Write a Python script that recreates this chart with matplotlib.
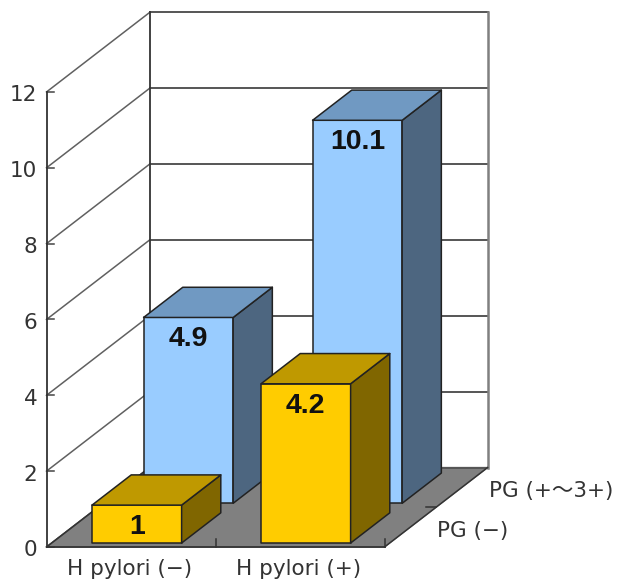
import matplotlib
matplotlib.use('Agg')
import matplotlib.pyplot as plt
from matplotlib.patches import Polygon

plt.rcParams['font.family'] = ['DejaVu Sans', 'Noto Sans CJK JP']

# data
categories = ['H pylori (−)', 'H pylori (+)']
series_names = ['PG (−)', 'PG (+〜3+)']
values_pg_neg = [1, 4.2]
values_pg_pos = [4.9, 10.1]
y_ticks = [0, 2, 4, 6, 8, 10, 12]

# oblique projection: one row of depth shifts this much in data units
depth_dx = 0.305
depth_dy = 1.048
bar_width = 0.53
row_gap = 0.1
bar_depth = 0.76


def proj(x, y, d):
    return (x + d * depth_dx, y + d * depth_dy)


fig = plt.figure(figsize=(6.23, 5.79), dpi=100)
ax = fig.add_axes([0, 0, 1, 1])
# x in category units, y in chart value units
ax.set_xlim(-46.5 / 169, (623 - 46.5) / 169)
ax.set_ylim(-32 / 37.92, 547 / 37.92)
ax.axis('off')

n_cat = len(categories)
n_row = len(series_names)
y_max = y_ticks[-1]

# floor
floor = [proj(0, 0, 0), proj(n_cat, 0, 0), proj(n_cat, 0, n_row), proj(0, 0, n_row)]
ax.add_patch(Polygon(floor, closed=True, facecolor='#808080', edgecolor='#808080', lw=1, zorder=1))

# back wall and left wall grid
for v in y_ticks:
    p0 = proj(0, v, 0)
    p1 = proj(0, v, n_row)
    p2 = proj(n_cat, v, n_row)
    ax.plot([p0[0], p1[0]], [p0[1], p1[1]], color='#606060', lw=1.1, zorder=2)
    ax.plot([p1[0], p2[0]], [p1[1], p2[1]], color='#555555', lw=1.4, zorder=2)
    # tick on the value axis
    ax.plot([p0[0], p0[0] + 0.045], [v, v], color='#444444', lw=1.1, zorder=2)
    ax.text(p0[0] - 0.055, v - 0.09, str(v), ha='right', va='center', fontsize=15.5, color='#333333')

left0 = proj(0, 0, 0)
left1 = proj(0, 0, n_row)
ax.plot([left0[0], left0[0]], [0, y_max], color='#333333', lw=1.3, zorder=3)
ax.plot([left1[0], left1[0]], [left1[1], left1[1] + y_max], color='#333333', lw=1.3, zorder=2)
right1 = proj(n_cat, 0, n_row)
ax.plot([right1[0], right1[0]], [right1[1], right1[1] + y_max], color='#808080', lw=1.8, zorder=2)

# floor edges and ticks
ax.plot([0, n_cat], [0, 0], color='#333333', lw=1.3, zorder=3)
fr = proj(n_cat, 0, 0)
ax.plot([fr[0], right1[0]], [fr[1], right1[1]], color='#333333', lw=1.1, zorder=3)
ax.plot([left0[0], left1[0]], [left0[1], left1[1]], color='#333333', lw=1.1, zorder=3)
for i in range(1, n_cat + 1):
    ax.plot([i, i], [0, 0.2], color='#333333', lw=1.1, zorder=3)
mid = proj(n_cat, 0, 1)
ax.plot([mid[0] - 0.06, mid[0]], [mid[1], mid[1]], color='#333333', lw=1.1, zorder=3)


def draw_bar(cat, row, value, front, top, side, order):
    x0 = cat + (1 - bar_width) / 2 + 0.004
    x1 = x0 + bar_width
    d0 = row + row_gap
    d1 = d0 + bar_depth
    base = proj(0, 0, d0)[1]
    faces = [
        ([proj(x0, 0, d0), proj(x1, 0, d0), proj(x1, value, d0), proj(x0, value, d0)], front),
        ([proj(x1, 0, d0), proj(x1, 0, d1), proj(x1, value, d1), proj(x1, value, d0)], side),
        ([proj(x0, value, d0), proj(x1, value, d0), proj(x1, value, d1), proj(x0, value, d1)], top),
    ]
    for pts, col in faces:
        ax.add_patch(Polygon(pts, closed=True, facecolor=col, edgecolor='#222222',
                             lw=1.1, joinstyle='round', zorder=order))
    cx = (x0 + x1) / 2 + d0 * depth_dx
    ax.text(cx, base + value - 0.58, str(value), ha='center', va='center', fontsize=20.5,
            fontweight='bold', family='Liberation Sans', color='#111111', zorder=order + 0.5)


# back row first so the front row covers it
for i, v in enumerate(values_pg_pos):
    draw_bar(i, 1, v, '#99CCFF', '#7099C2', '#4D6680', 5)
for i, v in enumerate(values_pg_neg):
    draw_bar(i, 0, v, '#FFCC00', '#BF9900', '#806600', 7)

# category labels under the floor
for i, name in enumerate(categories):
    ax.text(i + 0.49, -0.58, name, ha='center', va='center', fontsize=15.5, color='#333333')

# row labels to the right of the floor
for r, name in enumerate(series_names):
    p = proj(n_cat, 0, r + 0.5)
    ax.text(p[0] + 0.16, p[1] - 0.09, name, ha='left', va='center', fontsize=15.5, color='#333333')

fig.savefig('out.png', dpi=100)
